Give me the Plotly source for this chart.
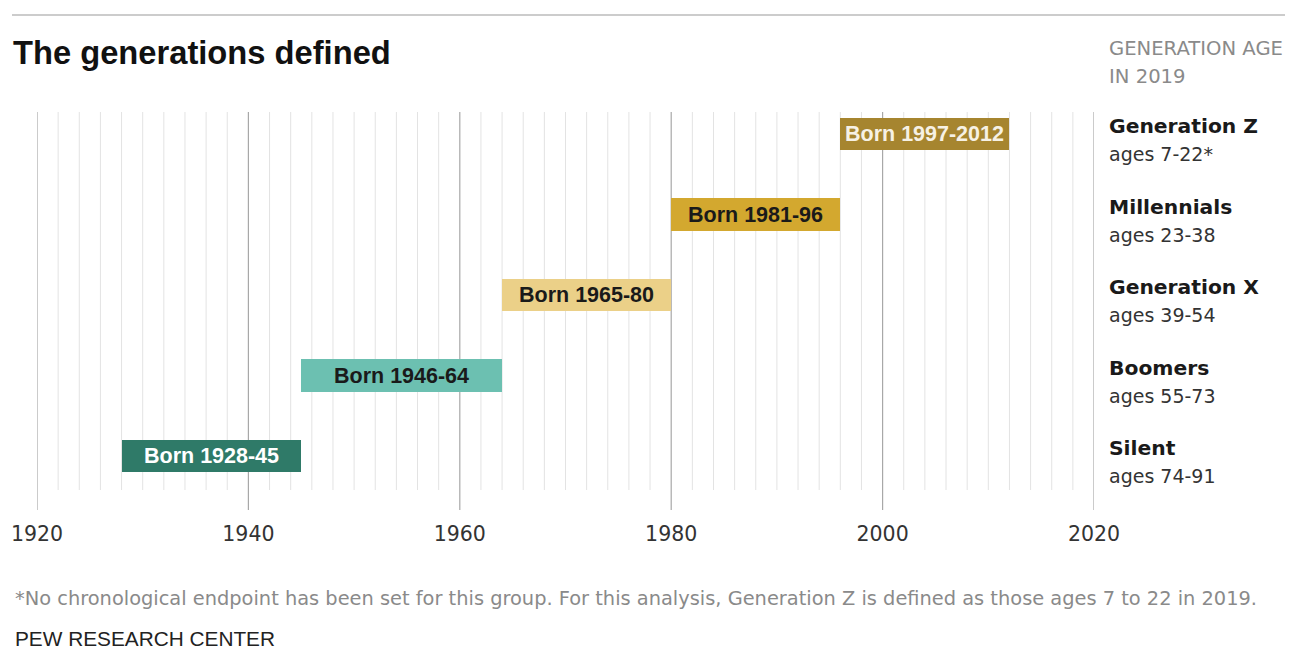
import plotly.graph_objects as go

# Generations, bottom to top
generations = ["Silent", "Boomers", "Generation X", "Millennials", "Generation Z"]
birth_start = [1928, 1946, 1965, 1981, 1997]
birth_end = [1945, 1964, 1980, 1996, 2012]
age_ranges = ["ages 74-91", "ages 55-73", "ages 39-54", "ages 23-38", "ages 7-22*"]
bar_colors = ["#2f7a68", "#6cc0b1", "#ebd088", "#d3a82f", "#a6852f"]
label_colors = ["#ffffff", "#1a1a1a", "#1a1a1a", "#1a1a1a", "#f6f1e4"]
year_ticks = [1920, 1940, 1960, 1980, 2000, 2020]

W, H = 1311, 659
L, R, T, B = 37, 217, 112, 149
plot_w = W - L - R
plot_h = H - T - B


def px_x(p):
    return (p - L) / plot_w


def px_y(p):
    return (H - B - p) / plot_h


# Each bar runs on from where the previous generation ends
bar_base = [birth_start[0]] + birth_end[:-1]
bar_len = [e - b for b, e in zip(bar_base, birth_end)]
ypos = list(range(len(generations)))

fig = go.Figure()
fig.add_trace(go.Bar(
    y=ypos,
    x=bar_len,
    base=bar_base,
    orientation="h",
    width=0.4,
    marker=dict(color=bar_colors, line=dict(width=0)),
    hoverinfo="skip",
    showlegend=False,
))

shapes = []
# minor gridlines every two years
for yr in range(1922, 2020, 2):
    if yr % 20 == 0:
        continue
    shapes.append(dict(type="line", xref="x", yref="paper", x0=yr, x1=yr,
                       y0=px_y(490), y1=1, line=dict(color="#e3e3e3", width=1),
                       layer="below"))
# major gridlines
for yr in year_ticks:
    shapes.append(dict(type="line", xref="x", yref="paper", x0=yr, x1=yr,
                       y0=0, y1=1, line=dict(color="#a8a8a8", width=1.2),
                       layer="below"))
# top rule
shapes.append(dict(type="line", xref="paper", yref="paper",
                   x0=px_x(12), x1=px_x(1285), y0=px_y(15), y1=px_y(15),
                   line=dict(color="#cccccc", width=2)))

annotations = []
# bar labels
for i, g in enumerate(generations):
    s = str(birth_start[i])
    e = str(birth_end[i])
    end_txt = e if e[:2] != s[:2] else e[2:]
    annotations.append(dict(
        x=(bar_base[i] + birth_end[i]) / 2, y=i, xref="x", yref="y",
        text=f"<b>Born {s}-{end_txt}</b>", showarrow=False,
        font=dict(family="Liberation Sans, Arial", size=21.5, color=label_colors[i]),
        xanchor="center", yanchor="middle",
    ))
    # generation names and ages on the right
    annotations.append(dict(
        x=px_x(1107), y=i, xref="paper", yref="y", yshift=8,
        text=f"<b>{g}</b>", showarrow=False,
        font=dict(family="DejaVu Sans", size=20.3, color="#1a1a1a"),
        xanchor="left", yanchor="middle",
    ))
    annotations.append(dict(
        x=px_x(1107), y=i, xref="paper", yref="y", yshift=-20,
        text=age_ranges[i], showarrow=False,
        font=dict(family="DejaVu Sans", size=19, color="#333333"),
        xanchor="left", yanchor="middle",
    ))

annotations += [
    dict(x=px_x(11), y=px_y(52), xref="paper", yref="paper",
         text="<b>The generations defined</b>", showarrow=False,
         font=dict(family="Liberation Sans, Arial", size=32.7, color="#111111"),
         xanchor="left", yanchor="middle"),
    dict(x=px_x(1107), y=px_y(49), xref="paper", yref="paper",
         text="GENERATION AGE", showarrow=False,
         font=dict(family="DejaVu Sans", size=19.6, color="#8a8a8a"),
         xanchor="left", yanchor="middle"),
    dict(x=px_x(1107), y=px_y(76), xref="paper", yref="paper",
         text="IN 2019", showarrow=False,
         font=dict(family="DejaVu Sans", size=19.6, color="#8a8a8a"),
         xanchor="left", yanchor="middle"),
    dict(x=px_x(13), y=px_y(598), xref="paper", yref="paper",
         text="*No chronological endpoint has been set for this group. For this analysis, "
              "Generation Z is defined as those ages 7 to 22 in 2019.",
         showarrow=False,
         font=dict(family="DejaVu Sans", size=19.4, color="#8a8a8a"),
         xanchor="left", yanchor="middle"),
    dict(x=px_x(13), y=px_y(638), xref="paper", yref="paper",
         text="PEW RESEARCH CENTER", showarrow=False,
         font=dict(family="Liberation Sans", size=20.8, color="#222222"),
         xanchor="left", yanchor="middle"),
]

span = plot_h / 80.5  # plot height in category units
y_lo = -(510 - 456) / 80.5

fig.update_layout(
    width=W, height=H,
    margin=dict(l=L, r=R, t=T, b=B, pad=0),
    paper_bgcolor="white", plot_bgcolor="white",
    shapes=shapes, annotations=annotations,
    bargap=0,
    xaxis=dict(range=[1920, 2020], tickvals=year_ticks, ticks="", showgrid=False,
               zeroline=False, showline=False,
               tickfont=dict(family="DejaVu Sans", size=20.5, color="#333333"),
               ticklabelstandoff=9, fixedrange=True),
    yaxis=dict(range=[y_lo, y_lo + span], showticklabels=False, ticks="",
               showgrid=False, zeroline=False, showline=False, fixedrange=True),
)

fig.write_html("out.html")
